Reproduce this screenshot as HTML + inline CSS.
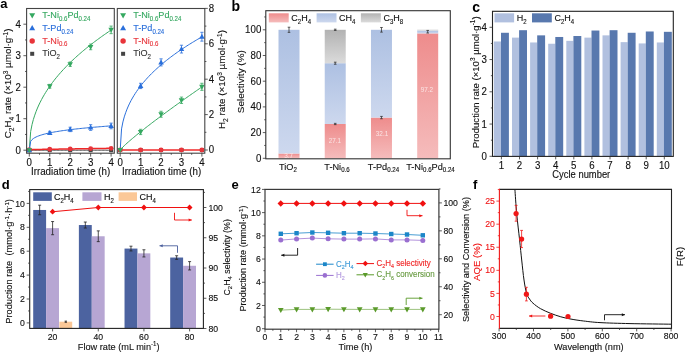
<!DOCTYPE html>
<html><head><meta charset="utf-8"><title>Figure</title>
<style>html,body{margin:0;padding:0;background:#fff;}body{width:685px;height:353px;overflow:hidden;font-family:"Liberation Sans",sans-serif;}svg{display:block;}#w{will-change:transform;}</style>
</head><body>
<div id="w"><svg width="685" height="353" viewBox="0 0 685 353" font-family="Liberation Sans, sans-serif">
<defs><linearGradient id="gR" x1="0" y1="0" x2="0" y2="1"><stop offset="0" stop-color="#ee8c8c"/><stop offset="1" stop-color="#f5bcbc"/></linearGradient><linearGradient id="gB" x1="0" y1="0" x2="0" y2="1"><stop offset="0" stop-color="#adc0e2"/><stop offset="1" stop-color="#cdd8ee"/></linearGradient><linearGradient id="gG" x1="0" y1="0" x2="0" y2="1"><stop offset="0" stop-color="#b2b2b2"/><stop offset="1" stop-color="#dbdbdb"/></linearGradient></defs>
<rect width="685" height="353" fill="#fff"/>
<text x="0.30" y="7.80" font-size="13" text-anchor="start" fill="#000" font-weight="bold"><tspan>a</tspan></text>
<polyline points="29.30,150.20 30.66,131.55 32.03,124.63 33.39,119.45 34.75,115.16 36.12,111.41 37.48,108.06 38.84,104.99 40.21,102.16 41.57,99.52 42.93,97.03 44.30,94.67 45.66,92.43 47.02,90.29 48.39,88.23 49.75,86.25 51.11,84.35 52.48,82.51 53.84,80.72 55.20,78.99 56.57,77.31 57.93,75.68 59.29,74.08 60.66,72.53 62.02,71.01 63.38,69.52 64.75,68.07 66.11,66.65 67.47,65.25 68.84,63.89 70.20,62.55 71.56,61.23 72.93,59.93 74.29,58.66 75.65,57.41 77.02,56.18 78.38,54.96 79.74,53.77 81.11,52.59 82.47,51.43 83.83,50.29 85.20,49.16 86.56,48.04 87.92,46.94 89.29,45.86 90.65,44.79 92.01,43.73 93.38,42.68 94.74,41.64 96.10,40.62 97.47,39.61 98.83,38.61 100.19,37.62 101.56,36.64 102.92,35.67 104.28,34.71 105.65,33.76 107.01,32.82 108.37,31.88 109.74,30.96 111.10,30.04" fill="none" stroke="#35a860" stroke-width="1"/>
<polyline points="29.30,150.20 30.66,141.28 32.03,139.62 33.39,138.52 34.75,137.67 36.12,136.96 37.48,136.36 38.84,135.83 40.21,135.35 41.57,134.91 42.93,134.51 44.30,134.14 45.66,133.80 47.02,133.47 48.39,133.17 49.75,132.88 51.11,132.60 52.48,132.34 53.84,132.08 55.20,131.84 56.57,131.61 57.93,131.39 59.29,131.17 60.66,130.96 62.02,130.76 63.38,130.57 64.75,130.38 66.11,130.19 67.47,130.01 68.84,129.84 70.20,129.67 71.56,129.50 72.93,129.34 74.29,129.18 75.65,129.03 77.02,128.88 78.38,128.73 79.74,128.59 81.11,128.44 82.47,128.31 83.83,128.17 85.20,128.04 86.56,127.90 87.92,127.78 89.29,127.65 90.65,127.52 92.01,127.40 93.38,127.28 94.74,127.16 96.10,127.05 97.47,126.93 98.83,126.82 100.19,126.71 101.56,126.60 102.92,126.49 104.28,126.38 105.65,126.28 107.01,126.17 108.37,126.07 109.74,125.97 111.10,125.87" fill="none" stroke="#2a6fdb" stroke-width="1"/>
<polyline points="29.30,150.20 30.66,150.20 32.03,150.20 33.39,150.20 34.75,150.20 36.12,150.20 37.48,150.20 38.84,150.20 40.21,150.20 41.57,150.20 42.93,150.20 44.30,150.20 45.66,150.20 47.02,150.20 48.39,150.20 49.75,150.20 51.11,150.20 52.48,150.20 53.84,150.20 55.20,150.20 56.57,150.20 57.93,150.20 59.29,150.20 60.66,150.20 62.02,150.20 63.38,150.20 64.75,150.20 66.11,150.20 67.47,150.20 68.84,150.20 70.20,150.20 71.56,150.20 72.93,150.20 74.29,150.20 75.65,150.20 77.02,150.20 78.38,150.20 79.74,150.20 81.11,150.20 82.47,150.20 83.83,150.20 85.20,150.20 86.56,150.20 87.92,150.20 89.29,150.20 90.65,150.20 92.01,150.20 93.38,150.20 94.74,150.20 96.10,150.20 97.47,150.20 98.83,150.20 100.19,150.20 101.56,150.20 102.92,150.20 104.28,150.20 105.65,150.20 107.01,150.20 108.37,150.20 109.74,150.20 111.10,150.20" fill="none" stroke="#444" stroke-width="1"/>
<polyline points="29.30,149.57 30.66,149.55 32.03,149.53 33.39,149.51 34.75,149.49 36.12,149.46 37.48,149.44 38.84,149.42 40.21,149.40 41.57,149.38 42.93,149.36 44.30,149.34 45.66,149.32 47.02,149.30 48.39,149.28 49.75,149.25 51.11,149.23 52.48,149.21 53.84,149.19 55.20,149.17 56.57,149.15 57.93,149.13 59.29,149.11 60.66,149.09 62.02,149.07 63.38,149.04 64.75,149.02 66.11,149.00 67.47,148.98 68.84,148.96 70.20,148.94 71.56,148.92 72.93,148.90 74.29,148.88 75.65,148.86 77.02,148.83 78.38,148.81 79.74,148.79 81.11,148.77 82.47,148.75 83.83,148.73 85.20,148.71 86.56,148.69 87.92,148.67 89.29,148.65 90.65,148.62 92.01,148.60 93.38,148.58 94.74,148.56 96.10,148.54 97.47,148.52 98.83,148.50 100.19,148.48 101.56,148.46 102.92,148.44 104.28,148.41 105.65,148.39 107.01,148.37 108.37,148.35 109.74,148.33 111.10,148.31" fill="none" stroke="#f02828" stroke-width="1.5"/>
<line x1="49.75" y1="84.36" x2="49.75" y2="88.15" stroke="#35a860" stroke-width="0.8"/>
<line x1="48.15" y1="84.36" x2="51.35" y2="84.36" stroke="#35a860" stroke-width="0.8"/>
<line x1="48.15" y1="88.15" x2="51.35" y2="88.15" stroke="#35a860" stroke-width="0.8"/>
<polygon points="49.75,89.13 52.50,84.25 47.00,84.25" fill="#35a860"/>
<line x1="70.20" y1="62.00" x2="70.20" y2="66.41" stroke="#35a860" stroke-width="0.8"/>
<line x1="68.60" y1="62.00" x2="71.80" y2="62.00" stroke="#35a860" stroke-width="0.8"/>
<line x1="68.60" y1="66.41" x2="71.80" y2="66.41" stroke="#35a860" stroke-width="0.8"/>
<polygon points="70.20,67.08 72.95,62.20 67.45,62.20" fill="#35a860"/>
<line x1="90.65" y1="44.05" x2="90.65" y2="49.72" stroke="#35a860" stroke-width="0.8"/>
<line x1="89.05" y1="44.05" x2="92.25" y2="44.05" stroke="#35a860" stroke-width="0.8"/>
<line x1="89.05" y1="49.72" x2="92.25" y2="49.72" stroke="#35a860" stroke-width="0.8"/>
<polygon points="90.65,49.76 93.40,44.88 87.90,44.88" fill="#35a860"/>
<line x1="111.10" y1="26.09" x2="111.10" y2="33.65" stroke="#35a860" stroke-width="0.8"/>
<line x1="109.50" y1="26.09" x2="112.70" y2="26.09" stroke="#35a860" stroke-width="0.8"/>
<line x1="109.50" y1="33.65" x2="112.70" y2="33.65" stroke="#35a860" stroke-width="0.8"/>
<polygon points="111.10,32.75 113.85,27.87 108.35,27.87" fill="#35a860"/>
<line x1="49.75" y1="131.30" x2="49.75" y2="134.45" stroke="#2a6fdb" stroke-width="0.8"/>
<line x1="48.15" y1="131.30" x2="51.35" y2="131.30" stroke="#2a6fdb" stroke-width="0.8"/>
<line x1="48.15" y1="134.45" x2="51.35" y2="134.45" stroke="#2a6fdb" stroke-width="0.8"/>
<polygon points="49.75,130.00 52.50,134.88 47.00,134.88" fill="#2a6fdb"/>
<line x1="70.20" y1="127.20" x2="70.20" y2="131.61" stroke="#2a6fdb" stroke-width="0.8"/>
<line x1="68.60" y1="127.20" x2="71.80" y2="127.20" stroke="#2a6fdb" stroke-width="0.8"/>
<line x1="68.60" y1="131.61" x2="71.80" y2="131.61" stroke="#2a6fdb" stroke-width="0.8"/>
<polygon points="70.20,126.53 72.95,131.41 67.45,131.41" fill="#2a6fdb"/>
<line x1="90.65" y1="124.68" x2="90.65" y2="130.35" stroke="#2a6fdb" stroke-width="0.8"/>
<line x1="89.05" y1="124.68" x2="92.25" y2="124.68" stroke="#2a6fdb" stroke-width="0.8"/>
<line x1="89.05" y1="130.35" x2="92.25" y2="130.35" stroke="#2a6fdb" stroke-width="0.8"/>
<polygon points="90.65,124.64 93.40,129.52 87.90,129.52" fill="#2a6fdb"/>
<line x1="111.10" y1="123.11" x2="111.10" y2="128.78" stroke="#2a6fdb" stroke-width="0.8"/>
<line x1="109.50" y1="123.11" x2="112.70" y2="123.11" stroke="#2a6fdb" stroke-width="0.8"/>
<line x1="109.50" y1="128.78" x2="112.70" y2="128.78" stroke="#2a6fdb" stroke-width="0.8"/>
<polygon points="111.10,123.07 113.85,127.94 108.35,127.94" fill="#2a6fdb"/>
<rect x="27.30" y="148.20" width="4.00" height="4.00" fill="#444"/>
<circle cx="29.30" cy="149.57" r="2.40" fill="#e8343a"/>
<rect x="47.75" y="148.20" width="4.00" height="4.00" fill="#444"/>
<circle cx="49.75" cy="149.25" r="2.40" fill="#e8343a"/>
<rect x="68.20" y="148.20" width="4.00" height="4.00" fill="#444"/>
<circle cx="70.20" cy="148.94" r="2.40" fill="#e8343a"/>
<rect x="88.65" y="148.20" width="4.00" height="4.00" fill="#444"/>
<circle cx="90.65" cy="148.62" r="2.40" fill="#e8343a"/>
<rect x="109.10" y="148.20" width="4.00" height="4.00" fill="#444"/>
<circle cx="111.10" cy="148.31" r="2.40" fill="#e8343a"/>
<polygon points="29.30,147.32 32.05,152.20 26.55,152.20" fill="#2a6fdb"/>
<polygon points="29.30,153.07 32.05,148.20 26.55,148.20" fill="#35a860"/>
<polyline points="120.20,150.00 121.56,128.89 122.92,121.95 124.28,116.88 125.65,112.73 127.01,109.16 128.37,105.99 129.73,103.12 131.09,100.48 132.46,98.03 133.82,95.74 135.18,93.58 136.54,91.53 137.90,89.58 139.26,87.71 140.62,85.93 141.99,84.21 143.35,82.55 144.71,80.95 146.07,79.41 147.43,77.90 148.80,76.45 150.16,75.03 151.52,73.65 152.88,72.31 154.24,71.00 155.60,69.72 156.97,68.47 158.33,67.24 159.69,66.04 161.05,64.87 162.41,63.71 163.77,62.58 165.13,61.47 166.50,60.38 167.86,59.31 169.22,58.26 170.58,57.22 171.94,56.20 173.31,55.20 174.67,54.21 176.03,53.23 177.39,52.27 178.75,51.33 180.11,50.39 181.48,49.47 182.84,48.56 184.20,47.66 185.56,46.77 186.92,45.90 188.28,45.03 189.65,44.18 191.01,43.33 192.37,42.49 193.73,41.67 195.09,40.85 196.45,40.04 197.81,39.24 199.18,38.44 200.54,37.66 201.90,36.88" fill="none" stroke="#2a6fdb" stroke-width="1"/>
<polyline points="120.20,150.00 121.56,148.38 122.92,147.00 124.28,145.68 125.65,144.41 127.01,143.18 128.37,141.97 129.73,140.78 131.09,139.61 132.46,138.46 133.82,137.32 135.18,136.19 136.54,135.07 137.90,133.96 139.26,132.86 140.62,131.77 141.99,130.68 143.35,129.61 144.71,128.54 146.07,127.47 147.43,126.42 148.80,125.36 150.16,124.32 151.52,123.27 152.88,122.23 154.24,121.20 155.60,120.17 156.97,119.15 158.33,118.13 159.69,117.11 161.05,116.10 162.41,115.09 163.77,114.08 165.13,113.08 166.50,112.08 167.86,111.08 169.22,110.09 170.58,109.10 171.94,108.11 173.31,107.12 174.67,106.14 176.03,105.16 177.39,104.18 178.75,103.21 180.11,102.24 181.48,101.27 182.84,100.30 184.20,99.33 185.56,98.37 186.92,97.41 188.28,96.45 189.65,95.49 191.01,94.53 192.37,93.58 193.73,92.63 195.09,91.68 196.45,90.73 197.81,89.78 199.18,88.84 200.54,87.90 201.90,86.95" fill="none" stroke="#35a860" stroke-width="1"/>
<polyline points="120.20,150.00 121.56,150.00 122.92,150.00 124.28,150.00 125.65,150.00 127.01,150.00 128.37,150.00 129.73,150.00 131.09,150.00 132.46,150.00 133.82,150.00 135.18,150.00 136.54,150.00 137.90,150.00 139.26,150.00 140.62,150.00 141.99,150.00 143.35,150.00 144.71,150.00 146.07,150.00 147.43,150.00 148.80,150.00 150.16,150.00 151.52,150.00 152.88,150.00 154.24,150.00 155.60,150.00 156.97,150.00 158.33,150.00 159.69,150.00 161.05,150.00 162.41,150.00 163.77,150.00 165.13,150.00 166.50,150.00 167.86,150.00 169.22,150.00 170.58,150.00 171.94,150.00 173.31,150.00 174.67,150.00 176.03,150.00 177.39,150.00 178.75,150.00 180.11,150.00 181.48,150.00 182.84,150.00 184.20,150.00 185.56,150.00 186.92,150.00 188.28,150.00 189.65,150.00 191.01,150.00 192.37,150.00 193.73,150.00 195.09,150.00 196.45,150.00 197.81,150.00 199.18,150.00 200.54,150.00 201.90,150.00" fill="none" stroke="#f02828" stroke-width="1.5"/>
<line x1="140.62" y1="83.27" x2="140.62" y2="88.58" stroke="#2a6fdb" stroke-width="0.8"/>
<line x1="139.03" y1="83.27" x2="142.22" y2="83.27" stroke="#2a6fdb" stroke-width="0.8"/>
<line x1="139.03" y1="88.58" x2="142.22" y2="88.58" stroke="#2a6fdb" stroke-width="0.8"/>
<polygon points="140.62,83.05 143.38,87.93 137.88,87.93" fill="#2a6fdb"/>
<line x1="161.05" y1="58.84" x2="161.05" y2="65.92" stroke="#2a6fdb" stroke-width="0.8"/>
<line x1="159.45" y1="58.84" x2="162.65" y2="58.84" stroke="#2a6fdb" stroke-width="0.8"/>
<line x1="159.45" y1="65.92" x2="162.65" y2="65.92" stroke="#2a6fdb" stroke-width="0.8"/>
<polygon points="161.05,59.51 163.80,64.39 158.30,64.39" fill="#2a6fdb"/>
<line x1="181.48" y1="45.22" x2="181.48" y2="53.00" stroke="#2a6fdb" stroke-width="0.8"/>
<line x1="179.88" y1="45.22" x2="183.08" y2="45.22" stroke="#2a6fdb" stroke-width="0.8"/>
<line x1="179.88" y1="53.00" x2="183.08" y2="53.00" stroke="#2a6fdb" stroke-width="0.8"/>
<polygon points="181.48,46.23 184.23,51.11 178.73,51.11" fill="#2a6fdb"/>
<line x1="201.90" y1="32.30" x2="201.90" y2="41.14" stroke="#2a6fdb" stroke-width="0.8"/>
<line x1="200.30" y1="32.30" x2="203.50" y2="32.30" stroke="#2a6fdb" stroke-width="0.8"/>
<line x1="200.30" y1="41.14" x2="203.50" y2="41.14" stroke="#2a6fdb" stroke-width="0.8"/>
<polygon points="201.90,33.84 204.65,38.72 199.15,38.72" fill="#2a6fdb"/>
<line x1="140.62" y1="129.29" x2="140.62" y2="134.60" stroke="#35a860" stroke-width="0.8"/>
<line x1="139.03" y1="129.29" x2="142.22" y2="129.29" stroke="#35a860" stroke-width="0.8"/>
<line x1="139.03" y1="134.60" x2="142.22" y2="134.60" stroke="#35a860" stroke-width="0.8"/>
<polygon points="140.62,134.82 143.38,129.95 137.88,129.95" fill="#35a860"/>
<line x1="161.05" y1="111.24" x2="161.05" y2="117.25" stroke="#35a860" stroke-width="0.8"/>
<line x1="159.45" y1="111.24" x2="162.65" y2="111.24" stroke="#35a860" stroke-width="0.8"/>
<line x1="159.45" y1="117.25" x2="162.65" y2="117.25" stroke="#35a860" stroke-width="0.8"/>
<polygon points="161.05,117.12 163.80,112.25 158.30,112.25" fill="#35a860"/>
<line x1="181.48" y1="97.08" x2="181.48" y2="103.45" stroke="#35a860" stroke-width="0.8"/>
<line x1="179.88" y1="97.08" x2="183.08" y2="97.08" stroke="#35a860" stroke-width="0.8"/>
<line x1="179.88" y1="103.45" x2="183.08" y2="103.45" stroke="#35a860" stroke-width="0.8"/>
<polygon points="181.48,103.14 184.23,98.26 178.73,98.26" fill="#35a860"/>
<line x1="201.90" y1="83.27" x2="201.90" y2="90.35" stroke="#35a860" stroke-width="0.8"/>
<line x1="200.30" y1="83.27" x2="203.50" y2="83.27" stroke="#35a860" stroke-width="0.8"/>
<line x1="200.30" y1="90.35" x2="203.50" y2="90.35" stroke="#35a860" stroke-width="0.8"/>
<polygon points="201.90,89.69 204.65,84.81 199.15,84.81" fill="#35a860"/>
<rect x="118.20" y="148.00" width="4.00" height="4.00" fill="#444"/>
<circle cx="120.20" cy="150.00" r="2.40" fill="#e8343a"/>
<rect x="138.62" y="148.00" width="4.00" height="4.00" fill="#444"/>
<circle cx="140.62" cy="150.00" r="2.40" fill="#e8343a"/>
<rect x="159.05" y="148.00" width="4.00" height="4.00" fill="#444"/>
<circle cx="161.05" cy="150.00" r="2.40" fill="#e8343a"/>
<rect x="179.48" y="148.00" width="4.00" height="4.00" fill="#444"/>
<circle cx="181.48" cy="150.00" r="2.40" fill="#e8343a"/>
<rect x="199.90" y="148.00" width="4.00" height="4.00" fill="#444"/>
<circle cx="201.90" cy="150.00" r="2.40" fill="#e8343a"/>
<polygon points="120.20,152.88 122.95,148.00 117.45,148.00" fill="#35a860"/>
<rect x="26.60" y="8.50" width="87.70" height="144.70" fill="none" stroke="#444" stroke-width="1.1"/>
<rect x="117.30" y="8.50" width="87.50" height="144.70" fill="none" stroke="#444" stroke-width="1.1"/>
<line x1="26.60" y1="150.20" x2="23.40" y2="150.20" stroke="#333" stroke-width="0.8"/>
<text x="21.00" y="153.69" font-size="9.7" text-anchor="end" fill="#111" stroke="#111" stroke-width="0.12" transform="matrix(1 0 0 1.07 0 -10.758)"><tspan>0</tspan></text>
<line x1="26.60" y1="118.70" x2="23.40" y2="118.70" stroke="#333" stroke-width="0.8"/>
<text x="21.00" y="122.19" font-size="9.7" text-anchor="end" fill="#111" stroke="#111" stroke-width="0.12" transform="matrix(1 0 0 1.07 0 -8.553)"><tspan>1</tspan></text>
<line x1="26.60" y1="87.20" x2="23.40" y2="87.20" stroke="#333" stroke-width="0.8"/>
<text x="21.00" y="90.69" font-size="9.7" text-anchor="end" fill="#111" stroke="#111" stroke-width="0.12" transform="matrix(1 0 0 1.07 0 -6.348)"><tspan>2</tspan></text>
<line x1="26.60" y1="55.70" x2="23.40" y2="55.70" stroke="#333" stroke-width="0.8"/>
<text x="21.00" y="59.19" font-size="9.7" text-anchor="end" fill="#111" stroke="#111" stroke-width="0.12" transform="matrix(1 0 0 1.07 0 -4.143)"><tspan>3</tspan></text>
<line x1="26.60" y1="24.20" x2="23.40" y2="24.20" stroke="#333" stroke-width="0.8"/>
<text x="21.00" y="27.69" font-size="9.7" text-anchor="end" fill="#111" stroke="#111" stroke-width="0.12" transform="matrix(1 0 0 1.07 0 -1.938)"><tspan>4</tspan></text>
<line x1="26.60" y1="134.45" x2="25.00" y2="134.45" stroke="#333" stroke-width="0.8"/>
<line x1="26.60" y1="102.95" x2="25.00" y2="102.95" stroke="#333" stroke-width="0.8"/>
<line x1="26.60" y1="71.45" x2="25.00" y2="71.45" stroke="#333" stroke-width="0.8"/>
<line x1="26.60" y1="39.95" x2="25.00" y2="39.95" stroke="#333" stroke-width="0.8"/>
<line x1="29.30" y1="153.20" x2="29.30" y2="156.60" stroke="#333" stroke-width="0.8"/>
<text x="29.30" y="166.28" font-size="9.7" text-anchor="middle" fill="#111" stroke="#111" stroke-width="0.12" transform="matrix(1 0 0 1.07 0 -11.640)"><tspan>0</tspan></text>
<line x1="49.75" y1="153.20" x2="49.75" y2="156.60" stroke="#333" stroke-width="0.8"/>
<text x="49.75" y="166.28" font-size="9.7" text-anchor="middle" fill="#111" stroke="#111" stroke-width="0.12" transform="matrix(1 0 0 1.07 0 -11.640)"><tspan>1</tspan></text>
<line x1="70.20" y1="153.20" x2="70.20" y2="156.60" stroke="#333" stroke-width="0.8"/>
<text x="70.20" y="166.28" font-size="9.7" text-anchor="middle" fill="#111" stroke="#111" stroke-width="0.12" transform="matrix(1 0 0 1.07 0 -11.640)"><tspan>2</tspan></text>
<line x1="90.65" y1="153.20" x2="90.65" y2="156.60" stroke="#333" stroke-width="0.8"/>
<text x="90.65" y="166.28" font-size="9.7" text-anchor="middle" fill="#111" stroke="#111" stroke-width="0.12" transform="matrix(1 0 0 1.07 0 -11.640)"><tspan>3</tspan></text>
<line x1="111.10" y1="153.20" x2="111.10" y2="156.60" stroke="#333" stroke-width="0.8"/>
<text x="111.10" y="166.28" font-size="9.7" text-anchor="middle" fill="#111" stroke="#111" stroke-width="0.12" transform="matrix(1 0 0 1.07 0 -11.640)"><tspan>4</tspan></text>
<line x1="39.52" y1="153.20" x2="39.52" y2="154.80" stroke="#333" stroke-width="0.8"/>
<line x1="59.97" y1="153.20" x2="59.97" y2="154.80" stroke="#333" stroke-width="0.8"/>
<line x1="80.42" y1="153.20" x2="80.42" y2="154.80" stroke="#333" stroke-width="0.8"/>
<line x1="100.88" y1="153.20" x2="100.88" y2="154.80" stroke="#333" stroke-width="0.8"/>
<line x1="204.80" y1="150.00" x2="207.80" y2="150.00" stroke="#333" stroke-width="0.8"/>
<text x="208.80" y="153.49" font-size="9.7" text-anchor="start" fill="#111" stroke="#111" stroke-width="0.12" transform="matrix(1 0 0 1.07 0 -10.744)"><tspan>0</tspan></text>
<line x1="204.80" y1="114.60" x2="207.80" y2="114.60" stroke="#333" stroke-width="0.8"/>
<text x="208.80" y="118.09" font-size="9.7" text-anchor="start" fill="#111" stroke="#111" stroke-width="0.12" transform="matrix(1 0 0 1.07 0 -8.266)"><tspan>2</tspan></text>
<line x1="204.80" y1="79.20" x2="207.80" y2="79.20" stroke="#333" stroke-width="0.8"/>
<text x="208.80" y="82.69" font-size="9.7" text-anchor="start" fill="#111" stroke="#111" stroke-width="0.12" transform="matrix(1 0 0 1.07 0 -5.788)"><tspan>4</tspan></text>
<line x1="204.80" y1="43.80" x2="207.80" y2="43.80" stroke="#333" stroke-width="0.8"/>
<text x="208.80" y="47.29" font-size="9.7" text-anchor="start" fill="#111" stroke="#111" stroke-width="0.12" transform="matrix(1 0 0 1.07 0 -3.310)"><tspan>6</tspan></text>
<line x1="204.80" y1="8.40" x2="207.80" y2="8.40" stroke="#333" stroke-width="0.8"/>
<text x="208.80" y="11.89" font-size="9.7" text-anchor="start" fill="#111" stroke="#111" stroke-width="0.12" transform="matrix(1 0 0 1.07 0 -0.832)"><tspan>8</tspan></text>
<line x1="204.80" y1="132.30" x2="206.40" y2="132.30" stroke="#333" stroke-width="0.8"/>
<line x1="204.80" y1="96.90" x2="206.40" y2="96.90" stroke="#333" stroke-width="0.8"/>
<line x1="204.80" y1="61.50" x2="206.40" y2="61.50" stroke="#333" stroke-width="0.8"/>
<line x1="204.80" y1="26.10" x2="206.40" y2="26.10" stroke="#333" stroke-width="0.8"/>
<line x1="120.20" y1="153.20" x2="120.20" y2="156.60" stroke="#333" stroke-width="0.8"/>
<text x="120.20" y="166.28" font-size="9.7" text-anchor="middle" fill="#111" stroke="#111" stroke-width="0.12" transform="matrix(1 0 0 1.07 0 -11.640)"><tspan>0</tspan></text>
<line x1="140.62" y1="153.20" x2="140.62" y2="156.60" stroke="#333" stroke-width="0.8"/>
<text x="140.62" y="166.28" font-size="9.7" text-anchor="middle" fill="#111" stroke="#111" stroke-width="0.12" transform="matrix(1 0 0 1.07 0 -11.640)"><tspan>1</tspan></text>
<line x1="161.05" y1="153.20" x2="161.05" y2="156.60" stroke="#333" stroke-width="0.8"/>
<text x="161.05" y="166.28" font-size="9.7" text-anchor="middle" fill="#111" stroke="#111" stroke-width="0.12" transform="matrix(1 0 0 1.07 0 -11.640)"><tspan>2</tspan></text>
<line x1="181.48" y1="153.20" x2="181.48" y2="156.60" stroke="#333" stroke-width="0.8"/>
<text x="181.48" y="166.28" font-size="9.7" text-anchor="middle" fill="#111" stroke="#111" stroke-width="0.12" transform="matrix(1 0 0 1.07 0 -11.640)"><tspan>3</tspan></text>
<line x1="201.90" y1="153.20" x2="201.90" y2="156.60" stroke="#333" stroke-width="0.8"/>
<text x="201.90" y="166.28" font-size="9.7" text-anchor="middle" fill="#111" stroke="#111" stroke-width="0.12" transform="matrix(1 0 0 1.07 0 -11.640)"><tspan>4</tspan></text>
<line x1="130.41" y1="153.20" x2="130.41" y2="154.80" stroke="#333" stroke-width="0.8"/>
<line x1="150.84" y1="153.20" x2="150.84" y2="154.80" stroke="#333" stroke-width="0.8"/>
<line x1="171.26" y1="153.20" x2="171.26" y2="154.80" stroke="#333" stroke-width="0.8"/>
<line x1="191.69" y1="153.20" x2="191.69" y2="154.80" stroke="#333" stroke-width="0.8"/>
<text x="70.60" y="175.40" font-size="9.8" text-anchor="middle" fill="#111" stroke="#111" stroke-width="0.12" transform="matrix(1 0 0 1.07 0 -12.278)"><tspan>Irradiation time (h)</tspan></text>
<text x="161.60" y="175.40" font-size="9.8" text-anchor="middle" fill="#111" stroke="#111" stroke-width="0.12" transform="matrix(1 0 0 1.07 0 -12.278)"><tspan>Irradiation time (h)</tspan></text>
<text x="11.40" y="83.40" font-size="9.85" text-anchor="middle" fill="#111" stroke="#111" stroke-width="0.12" transform="rotate(-90 11.40 83.40)"><tspan>C</tspan><tspan font-size="6.60" dy="2.66">2</tspan><tspan dy="-2.66">H</tspan><tspan font-size="6.60" dy="2.66">4</tspan><tspan dy="-2.66"> rate (×10</tspan><tspan font-size="6.60" dy="-3.74">3</tspan><tspan dy="3.74"> µmol·g</tspan><tspan font-size="6.60" dy="-3.74">-1</tspan><tspan dy="3.74">)</tspan></text>
<text x="225.40" y="79.50" font-size="9.85" text-anchor="middle" fill="#111" stroke="#111" stroke-width="0.12" transform="rotate(-90 225.40 79.50)"><tspan>H</tspan><tspan font-size="6.60" dy="2.66">2</tspan><tspan dy="-2.66"> rate (×10</tspan><tspan font-size="6.60" dy="-3.74">3</tspan><tspan dy="3.74"> µmol·g</tspan><tspan font-size="6.60" dy="-3.74">-1</tspan><tspan dy="3.74">)</tspan></text>
<polygon points="32.20,18.50 35.17,13.24 29.23,13.24" fill="#35a860"/>
<text x="42.30" y="18.10" font-size="9.1" text-anchor="start" fill="#35a860" stroke="#35a860" stroke-width="0.12" transform="matrix(1 0 0 1.07 0 -1.267)"><tspan>T-Ni</tspan><tspan font-size="6.10" dy="2.46">0.6</tspan><tspan dy="-2.46">Pd</tspan><tspan font-size="6.10" dy="2.46">0.24</tspan></text>
<polygon points="32.20,25.10 35.17,30.36 29.23,30.36" fill="#2a6fdb"/>
<text x="42.30" y="30.90" font-size="9.1" text-anchor="start" fill="#2a6fdb" stroke="#2a6fdb" stroke-width="0.12" transform="matrix(1 0 0 1.07 0 -2.163)"><tspan>T-Pd</tspan><tspan font-size="6.10" dy="2.46">0.24</tspan></text>
<circle cx="32.20" cy="41.00" r="2.70" fill="#e8343a"/>
<text x="42.30" y="43.70" font-size="9.1" text-anchor="start" fill="#e8343a" stroke="#e8343a" stroke-width="0.12" transform="matrix(1 0 0 1.07 0 -3.059)"><tspan>T-Ni</tspan><tspan font-size="6.10" dy="2.46">0.6</tspan></text>
<rect x="30.20" y="51.80" width="4.00" height="4.00" fill="#444"/>
<text x="42.30" y="56.50" font-size="9.1" text-anchor="start" fill="#333" stroke="#333" stroke-width="0.12" transform="matrix(1 0 0 1.07 0 -3.955)"><tspan>TiO</tspan><tspan font-size="6.10" dy="2.46">2</tspan></text>
<polygon points="123.10,18.50 126.07,13.24 120.13,13.24" fill="#35a860"/>
<text x="133.20" y="18.10" font-size="9.1" text-anchor="start" fill="#35a860" stroke="#35a860" stroke-width="0.12" transform="matrix(1 0 0 1.07 0 -1.267)"><tspan>T-Ni</tspan><tspan font-size="6.10" dy="2.46">0.6</tspan><tspan dy="-2.46">Pd</tspan><tspan font-size="6.10" dy="2.46">0.24</tspan></text>
<polygon points="123.10,25.10 126.07,30.36 120.13,30.36" fill="#2a6fdb"/>
<text x="133.20" y="30.90" font-size="9.1" text-anchor="start" fill="#2a6fdb" stroke="#2a6fdb" stroke-width="0.12" transform="matrix(1 0 0 1.07 0 -2.163)"><tspan>T-Pd</tspan><tspan font-size="6.10" dy="2.46">0.24</tspan></text>
<circle cx="123.10" cy="41.00" r="2.70" fill="#e8343a"/>
<text x="133.20" y="43.70" font-size="9.1" text-anchor="start" fill="#e8343a" stroke="#e8343a" stroke-width="0.12" transform="matrix(1 0 0 1.07 0 -3.059)"><tspan>T-Ni</tspan><tspan font-size="6.10" dy="2.46">0.6</tspan></text>
<rect x="121.10" y="51.80" width="4.00" height="4.00" fill="#444"/>
<text x="133.20" y="56.50" font-size="9.1" text-anchor="start" fill="#333" stroke="#333" stroke-width="0.12" transform="matrix(1 0 0 1.07 0 -3.955)"><tspan>TiO</tspan><tspan font-size="6.10" dy="2.46">2</tspan></text>
<text x="231.50" y="11.40" font-size="14" text-anchor="start" fill="#000" font-weight="bold"><tspan>b</tspan></text>
<rect x="278.50" y="153.55" width="21.00" height="4.75" fill="url(#gR)"/>
<rect x="278.50" y="29.80" width="21.00" height="123.75" fill="url(#gB)"/>
<rect x="324.73" y="123.99" width="21.00" height="34.31" fill="url(#gR)"/>
<rect x="324.73" y="63.21" width="21.00" height="60.78" fill="url(#gB)"/>
<rect x="324.73" y="29.80" width="21.00" height="33.41" fill="url(#gG)"/>
<rect x="370.97" y="117.57" width="21.00" height="40.73" fill="url(#gR)"/>
<rect x="370.97" y="29.80" width="21.00" height="87.77" fill="url(#gB)"/>
<rect x="417.20" y="33.40" width="21.00" height="124.90" fill="url(#gR)"/>
<rect x="417.20" y="30.57" width="21.00" height="2.83" fill="url(#gB)"/>
<rect x="417.20" y="29.80" width="21.00" height="0.77" fill="url(#gG)"/>
<line x1="289.00" y1="27.23" x2="289.00" y2="32.37" stroke="#333" stroke-width="0.8"/>
<line x1="287.70" y1="27.23" x2="290.30" y2="27.23" stroke="#333" stroke-width="0.8"/>
<line x1="287.70" y1="32.37" x2="290.30" y2="32.37" stroke="#333" stroke-width="0.8"/>
<line x1="335.23" y1="29.16" x2="335.23" y2="30.44" stroke="#333" stroke-width="0.8"/>
<line x1="333.93" y1="29.16" x2="336.53" y2="29.16" stroke="#333" stroke-width="0.8"/>
<line x1="333.93" y1="30.44" x2="336.53" y2="30.44" stroke="#333" stroke-width="0.8"/>
<line x1="335.23" y1="62.18" x2="335.23" y2="64.24" stroke="#333" stroke-width="0.8"/>
<line x1="333.93" y1="62.18" x2="336.53" y2="62.18" stroke="#333" stroke-width="0.8"/>
<line x1="333.93" y1="64.24" x2="336.53" y2="64.24" stroke="#333" stroke-width="0.8"/>
<line x1="335.23" y1="123.35" x2="335.23" y2="124.63" stroke="#333" stroke-width="0.8"/>
<line x1="333.93" y1="123.35" x2="336.53" y2="123.35" stroke="#333" stroke-width="0.8"/>
<line x1="333.93" y1="124.63" x2="336.53" y2="124.63" stroke="#333" stroke-width="0.8"/>
<line x1="381.47" y1="27.49" x2="381.47" y2="32.11" stroke="#333" stroke-width="0.8"/>
<line x1="380.17" y1="27.49" x2="382.77" y2="27.49" stroke="#333" stroke-width="0.8"/>
<line x1="380.17" y1="32.11" x2="382.77" y2="32.11" stroke="#333" stroke-width="0.8"/>
<line x1="381.47" y1="116.41" x2="381.47" y2="118.72" stroke="#333" stroke-width="0.8"/>
<line x1="380.17" y1="116.41" x2="382.77" y2="116.41" stroke="#333" stroke-width="0.8"/>
<line x1="380.17" y1="118.72" x2="382.77" y2="118.72" stroke="#333" stroke-width="0.8"/>
<line x1="427.70" y1="30.44" x2="427.70" y2="33.01" stroke="#333" stroke-width="0.8"/>
<line x1="426.40" y1="30.44" x2="429.00" y2="30.44" stroke="#333" stroke-width="0.8"/>
<line x1="426.40" y1="33.01" x2="429.00" y2="33.01" stroke="#333" stroke-width="0.8"/>
<text x="288.60" y="158.20" font-size="6.4" text-anchor="middle" fill="#fbe4e4" transform="matrix(1 0 0 1.07 0 -11.074)"><tspan>3.7</tspan></text>
<text x="334.90" y="143.40" font-size="6.4" text-anchor="middle" fill="#fbe4e4" transform="matrix(1 0 0 1.07 0 -10.038)"><tspan>27.1</tspan></text>
<text x="382.00" y="136.30" font-size="6.4" text-anchor="middle" fill="#fbe4e4" transform="matrix(1 0 0 1.07 0 -9.541)"><tspan>32.1</tspan></text>
<text x="426.90" y="92.40" font-size="6.4" text-anchor="middle" fill="#fbe4e4" transform="matrix(1 0 0 1.07 0 -6.468)"><tspan>97.2</tspan></text>
<rect x="265.80" y="10.70" width="184.50" height="148.10" fill="none" stroke="#333" stroke-width="1.1"/>
<line x1="265.80" y1="158.30" x2="262.80" y2="158.30" stroke="#333" stroke-width="0.8"/>
<text x="261.30" y="161.79" font-size="9.7" text-anchor="end" fill="#111" stroke="#111" stroke-width="0.12" transform="matrix(1 0 0 1.07 0 -11.325)"><tspan>0</tspan></text>
<line x1="265.80" y1="132.60" x2="262.80" y2="132.60" stroke="#333" stroke-width="0.8"/>
<text x="261.30" y="136.09" font-size="9.7" text-anchor="end" fill="#111" stroke="#111" stroke-width="0.12" transform="matrix(1 0 0 1.07 0 -9.526)"><tspan>20</tspan></text>
<line x1="265.80" y1="106.90" x2="262.80" y2="106.90" stroke="#333" stroke-width="0.8"/>
<text x="261.30" y="110.39" font-size="9.7" text-anchor="end" fill="#111" stroke="#111" stroke-width="0.12" transform="matrix(1 0 0 1.07 0 -7.727)"><tspan>40</tspan></text>
<line x1="265.80" y1="81.20" x2="262.80" y2="81.20" stroke="#333" stroke-width="0.8"/>
<text x="261.30" y="84.69" font-size="9.7" text-anchor="end" fill="#111" stroke="#111" stroke-width="0.12" transform="matrix(1 0 0 1.07 0 -5.928)"><tspan>60</tspan></text>
<line x1="265.80" y1="55.50" x2="262.80" y2="55.50" stroke="#333" stroke-width="0.8"/>
<text x="261.30" y="58.99" font-size="9.7" text-anchor="end" fill="#111" stroke="#111" stroke-width="0.12" transform="matrix(1 0 0 1.07 0 -4.129)"><tspan>80</tspan></text>
<line x1="265.80" y1="29.80" x2="262.80" y2="29.80" stroke="#333" stroke-width="0.8"/>
<text x="261.30" y="33.29" font-size="9.7" text-anchor="end" fill="#111" stroke="#111" stroke-width="0.12" transform="matrix(1 0 0 1.07 0 -2.330)"><tspan>100</tspan></text>
<line x1="265.80" y1="145.45" x2="264.20" y2="145.45" stroke="#333" stroke-width="0.8"/>
<line x1="265.80" y1="119.75" x2="264.20" y2="119.75" stroke="#333" stroke-width="0.8"/>
<line x1="265.80" y1="94.05" x2="264.20" y2="94.05" stroke="#333" stroke-width="0.8"/>
<line x1="265.80" y1="68.35" x2="264.20" y2="68.35" stroke="#333" stroke-width="0.8"/>
<line x1="265.80" y1="42.65" x2="264.20" y2="42.65" stroke="#333" stroke-width="0.8"/>
<line x1="265.80" y1="16.95" x2="264.20" y2="16.95" stroke="#333" stroke-width="0.8"/>
<text x="288.00" y="169.80" font-size="9.2" text-anchor="middle" fill="#111" stroke="#111" stroke-width="0.12" transform="matrix(1 0 0 1.07 0 -11.886)"><tspan>TiO</tspan><tspan font-size="6.16" dy="2.48">2</tspan></text>
<text x="337.00" y="169.80" font-size="9.2" text-anchor="middle" fill="#111" stroke="#111" stroke-width="0.12" transform="matrix(1 0 0 1.07 0 -11.886)"><tspan>T-Ni</tspan><tspan font-size="6.16" dy="2.48">0.6</tspan></text>
<text x="383.50" y="169.80" font-size="9.2" text-anchor="middle" fill="#111" stroke="#111" stroke-width="0.12" transform="matrix(1 0 0 1.07 0 -11.886)"><tspan>T-Pd</tspan><tspan font-size="6.16" dy="2.48">0.24</tspan></text>
<text x="430.50" y="169.80" font-size="9.2" text-anchor="middle" fill="#111" stroke="#111" stroke-width="0.12" transform="matrix(1 0 0 1.07 0 -11.886)"><tspan>T-Ni</tspan><tspan font-size="6.16" dy="2.48">0.6</tspan><tspan dy="-2.48">Pd</tspan><tspan font-size="6.16" dy="2.48">0.24</tspan></text>
<text x="244.50" y="81.65" font-size="9.95" text-anchor="middle" fill="#111" stroke="#111" stroke-width="0.12" transform="rotate(-90 244.50 81.65)"><tspan>Selectivity (%)</tspan></text>
<rect x="268.80" y="13.30" width="19.90" height="9.10" fill="url(#gR)"/>
<text x="291.30" y="21.20" font-size="9" text-anchor="start" fill="#111" stroke="#111" stroke-width="0.12" transform="matrix(1 0 0 1.07 0 -1.484)"><tspan>C</tspan><tspan font-size="6.03" dy="2.43">2</tspan><tspan dy="-2.43">H</tspan><tspan font-size="6.03" dy="2.43">4</tspan></text>
<rect x="316.60" y="13.30" width="19.90" height="9.10" fill="url(#gB)"/>
<text x="339.10" y="21.20" font-size="9" text-anchor="start" fill="#111" stroke="#111" stroke-width="0.12" transform="matrix(1 0 0 1.07 0 -1.484)"><tspan>CH</tspan><tspan font-size="6.03" dy="2.43">4</tspan></text>
<rect x="360.90" y="13.30" width="19.90" height="9.10" fill="url(#gG)"/>
<text x="383.40" y="21.20" font-size="9" text-anchor="start" fill="#111" stroke="#111" stroke-width="0.12" transform="matrix(1 0 0 1.07 0 -1.484)"><tspan>C</tspan><tspan font-size="6.03" dy="2.43">3</tspan><tspan dy="-2.43">H</tspan><tspan font-size="6.03" dy="2.43">8</tspan></text>
<text x="472.30" y="12.00" font-size="14" text-anchor="start" fill="#000" font-weight="bold"><tspan>c</tspan></text>
<rect x="493.90" y="41.49" width="7.10" height="114.81" fill="#b1c0df"/>
<rect x="501.00" y="32.78" width="7.90" height="123.52" fill="#5878ae"/>
<rect x="512.00" y="37.62" width="7.10" height="118.68" fill="#b1c0df"/>
<rect x="519.10" y="30.20" width="7.90" height="126.10" fill="#5878ae"/>
<rect x="530.10" y="42.46" width="7.10" height="113.84" fill="#b1c0df"/>
<rect x="537.20" y="35.36" width="7.90" height="120.94" fill="#5878ae"/>
<rect x="548.20" y="43.75" width="7.10" height="112.55" fill="#b1c0df"/>
<rect x="555.30" y="36.98" width="7.90" height="119.33" fill="#5878ae"/>
<rect x="566.30" y="40.85" width="7.10" height="115.45" fill="#b1c0df"/>
<rect x="573.40" y="36.01" width="7.90" height="120.29" fill="#5878ae"/>
<rect x="584.40" y="37.62" width="7.10" height="118.68" fill="#b1c0df"/>
<rect x="591.50" y="30.53" width="7.90" height="125.77" fill="#5878ae"/>
<rect x="602.50" y="35.36" width="7.10" height="120.94" fill="#b1c0df"/>
<rect x="609.60" y="30.20" width="7.90" height="126.10" fill="#5878ae"/>
<rect x="620.60" y="42.14" width="7.10" height="114.17" fill="#b1c0df"/>
<rect x="627.70" y="32.78" width="7.90" height="123.52" fill="#5878ae"/>
<rect x="638.70" y="43.43" width="7.10" height="112.88" fill="#b1c0df"/>
<rect x="645.80" y="31.49" width="7.90" height="124.81" fill="#5878ae"/>
<rect x="656.80" y="42.46" width="7.10" height="113.84" fill="#b1c0df"/>
<rect x="663.90" y="31.82" width="7.90" height="124.48" fill="#5878ae"/>
<rect x="492.50" y="11.30" width="180.80" height="145.10" fill="none" stroke="#222" stroke-width="1.1"/>
<line x1="492.50" y1="156.30" x2="489.50" y2="156.30" stroke="#333" stroke-width="0.8"/>
<text x="487.00" y="159.79" font-size="9.7" text-anchor="end" fill="#111" stroke="#111" stroke-width="0.12" transform="matrix(1 0 0 1.07 0 -11.185)"><tspan>0</tspan></text>
<line x1="492.50" y1="124.05" x2="489.50" y2="124.05" stroke="#333" stroke-width="0.8"/>
<text x="487.00" y="127.54" font-size="9.7" text-anchor="end" fill="#111" stroke="#111" stroke-width="0.12" transform="matrix(1 0 0 1.07 0 -8.928)"><tspan>1</tspan></text>
<line x1="492.50" y1="91.80" x2="489.50" y2="91.80" stroke="#333" stroke-width="0.8"/>
<text x="487.00" y="95.29" font-size="9.7" text-anchor="end" fill="#111" stroke="#111" stroke-width="0.12" transform="matrix(1 0 0 1.07 0 -6.670)"><tspan>2</tspan></text>
<line x1="492.50" y1="59.55" x2="489.50" y2="59.55" stroke="#333" stroke-width="0.8"/>
<text x="487.00" y="63.04" font-size="9.7" text-anchor="end" fill="#111" stroke="#111" stroke-width="0.12" transform="matrix(1 0 0 1.07 0 -4.413)"><tspan>3</tspan></text>
<line x1="492.50" y1="27.30" x2="489.50" y2="27.30" stroke="#333" stroke-width="0.8"/>
<text x="487.00" y="30.79" font-size="9.7" text-anchor="end" fill="#111" stroke="#111" stroke-width="0.12" transform="matrix(1 0 0 1.07 0 -2.155)"><tspan>4</tspan></text>
<line x1="492.50" y1="140.18" x2="490.90" y2="140.18" stroke="#333" stroke-width="0.8"/>
<line x1="492.50" y1="107.93" x2="490.90" y2="107.93" stroke="#333" stroke-width="0.8"/>
<line x1="492.50" y1="75.68" x2="490.90" y2="75.68" stroke="#333" stroke-width="0.8"/>
<line x1="492.50" y1="43.43" x2="490.90" y2="43.43" stroke="#333" stroke-width="0.8"/>
<line x1="501.40" y1="156.40" x2="501.40" y2="159.40" stroke="#333" stroke-width="0.8"/>
<text x="501.40" y="168.98" font-size="9.7" text-anchor="middle" fill="#111" stroke="#111" stroke-width="0.12" transform="matrix(1 0 0 1.07 0 -11.829)"><tspan>1</tspan></text>
<line x1="519.50" y1="156.40" x2="519.50" y2="159.40" stroke="#333" stroke-width="0.8"/>
<text x="519.50" y="168.98" font-size="9.7" text-anchor="middle" fill="#111" stroke="#111" stroke-width="0.12" transform="matrix(1 0 0 1.07 0 -11.829)"><tspan>2</tspan></text>
<line x1="537.60" y1="156.40" x2="537.60" y2="159.40" stroke="#333" stroke-width="0.8"/>
<text x="537.60" y="168.98" font-size="9.7" text-anchor="middle" fill="#111" stroke="#111" stroke-width="0.12" transform="matrix(1 0 0 1.07 0 -11.829)"><tspan>3</tspan></text>
<line x1="555.70" y1="156.40" x2="555.70" y2="159.40" stroke="#333" stroke-width="0.8"/>
<text x="555.70" y="168.98" font-size="9.7" text-anchor="middle" fill="#111" stroke="#111" stroke-width="0.12" transform="matrix(1 0 0 1.07 0 -11.829)"><tspan>4</tspan></text>
<line x1="573.80" y1="156.40" x2="573.80" y2="159.40" stroke="#333" stroke-width="0.8"/>
<text x="573.80" y="168.98" font-size="9.7" text-anchor="middle" fill="#111" stroke="#111" stroke-width="0.12" transform="matrix(1 0 0 1.07 0 -11.829)"><tspan>5</tspan></text>
<line x1="591.90" y1="156.40" x2="591.90" y2="159.40" stroke="#333" stroke-width="0.8"/>
<text x="591.90" y="168.98" font-size="9.7" text-anchor="middle" fill="#111" stroke="#111" stroke-width="0.12" transform="matrix(1 0 0 1.07 0 -11.829)"><tspan>6</tspan></text>
<line x1="610.00" y1="156.40" x2="610.00" y2="159.40" stroke="#333" stroke-width="0.8"/>
<text x="610.00" y="168.98" font-size="9.7" text-anchor="middle" fill="#111" stroke="#111" stroke-width="0.12" transform="matrix(1 0 0 1.07 0 -11.829)"><tspan>7</tspan></text>
<line x1="628.10" y1="156.40" x2="628.10" y2="159.40" stroke="#333" stroke-width="0.8"/>
<text x="628.10" y="168.98" font-size="9.7" text-anchor="middle" fill="#111" stroke="#111" stroke-width="0.12" transform="matrix(1 0 0 1.07 0 -11.829)"><tspan>8</tspan></text>
<line x1="646.20" y1="156.40" x2="646.20" y2="159.40" stroke="#333" stroke-width="0.8"/>
<text x="646.20" y="168.98" font-size="9.7" text-anchor="middle" fill="#111" stroke="#111" stroke-width="0.12" transform="matrix(1 0 0 1.07 0 -11.829)"><tspan>9</tspan></text>
<line x1="664.30" y1="156.40" x2="664.30" y2="159.40" stroke="#333" stroke-width="0.8"/>
<text x="664.30" y="168.98" font-size="9.7" text-anchor="middle" fill="#111" stroke="#111" stroke-width="0.12" transform="matrix(1 0 0 1.07 0 -11.829)"><tspan>10</tspan></text>
<text x="581.30" y="177.80" font-size="9.4" text-anchor="middle" fill="#111" stroke="#111" stroke-width="0.12" transform="matrix(1 0 0 1.07 0 -12.446)"><tspan>Cycle number</tspan></text>
<text x="478.60" y="82.30" font-size="9.6" text-anchor="middle" fill="#111" stroke="#111" stroke-width="0.12" transform="rotate(-90 478.60 82.30)"><tspan>Production rate (×10</tspan><tspan font-size="6.43" dy="-3.65">3</tspan><tspan dy="3.65"> µmol·g</tspan><tspan font-size="6.43" dy="-3.65">-1</tspan><tspan dy="3.65">)</tspan></text>
<rect x="494.50" y="13.30" width="19.60" height="9.10" fill="#b1c0df"/>
<text x="516.80" y="21.20" font-size="9" text-anchor="start" fill="#111" stroke="#111" stroke-width="0.12" transform="matrix(1 0 0 1.07 0 -1.484)"><tspan>H</tspan><tspan font-size="6.03" dy="2.43">2</tspan></text>
<rect x="532.00" y="13.30" width="19.80" height="9.10" fill="#5878ae"/>
<text x="554.50" y="21.20" font-size="9" text-anchor="start" fill="#111" stroke="#111" stroke-width="0.12" transform="matrix(1 0 0 1.07 0 -1.484)"><tspan>C</tspan><tspan font-size="6.03" dy="2.43">2</tspan><tspan dy="-2.43">H</tspan><tspan font-size="6.03" dy="2.43">4</tspan></text>
<text x="1.80" y="189.30" font-size="13" text-anchor="start" fill="#000" font-weight="bold"><tspan>d</tspan></text>
<rect x="33.20" y="209.97" width="12.90" height="118.43" fill="#4c63a0"/>
<rect x="46.10" y="228.14" width="12.90" height="100.26" fill="#b7a6d3"/>
<line x1="39.65" y1="205.19" x2="39.65" y2="214.75" stroke="#222" stroke-width="0.8"/>
<line x1="38.15" y1="205.19" x2="41.15" y2="205.19" stroke="#222" stroke-width="0.8"/>
<line x1="38.15" y1="214.75" x2="41.15" y2="214.75" stroke="#222" stroke-width="0.8"/>
<line x1="52.60" y1="221.56" x2="52.60" y2="234.71" stroke="#222" stroke-width="0.8"/>
<line x1="51.10" y1="221.56" x2="54.10" y2="221.56" stroke="#222" stroke-width="0.8"/>
<line x1="51.10" y1="234.71" x2="54.10" y2="234.71" stroke="#222" stroke-width="0.8"/>
<rect x="78.87" y="225.03" width="12.90" height="103.37" fill="#4c63a0"/>
<rect x="91.77" y="236.26" width="12.90" height="92.14" fill="#b7a6d3"/>
<line x1="85.32" y1="222.04" x2="85.32" y2="228.02" stroke="#222" stroke-width="0.8"/>
<line x1="83.82" y1="222.04" x2="86.82" y2="222.04" stroke="#222" stroke-width="0.8"/>
<line x1="83.82" y1="228.02" x2="86.82" y2="228.02" stroke="#222" stroke-width="0.8"/>
<line x1="98.27" y1="230.88" x2="98.27" y2="241.64" stroke="#222" stroke-width="0.8"/>
<line x1="96.77" y1="230.88" x2="99.77" y2="230.88" stroke="#222" stroke-width="0.8"/>
<line x1="96.77" y1="241.64" x2="99.77" y2="241.64" stroke="#222" stroke-width="0.8"/>
<rect x="124.53" y="248.57" width="12.90" height="79.83" fill="#4c63a0"/>
<rect x="137.43" y="253.35" width="12.90" height="75.05" fill="#b7a6d3"/>
<line x1="130.98" y1="246.18" x2="130.98" y2="250.96" stroke="#222" stroke-width="0.8"/>
<line x1="129.48" y1="246.18" x2="132.48" y2="246.18" stroke="#222" stroke-width="0.8"/>
<line x1="129.48" y1="250.96" x2="132.48" y2="250.96" stroke="#222" stroke-width="0.8"/>
<line x1="143.93" y1="249.77" x2="143.93" y2="256.94" stroke="#222" stroke-width="0.8"/>
<line x1="142.43" y1="249.77" x2="145.43" y2="249.77" stroke="#222" stroke-width="0.8"/>
<line x1="142.43" y1="256.94" x2="145.43" y2="256.94" stroke="#222" stroke-width="0.8"/>
<rect x="170.20" y="257.53" width="12.90" height="70.87" fill="#4c63a0"/>
<rect x="183.10" y="265.78" width="12.90" height="62.62" fill="#b7a6d3"/>
<line x1="176.65" y1="255.74" x2="176.65" y2="259.33" stroke="#222" stroke-width="0.8"/>
<line x1="175.15" y1="255.74" x2="178.15" y2="255.74" stroke="#222" stroke-width="0.8"/>
<line x1="175.15" y1="259.33" x2="178.15" y2="259.33" stroke="#222" stroke-width="0.8"/>
<line x1="189.60" y1="261.60" x2="189.60" y2="269.96" stroke="#222" stroke-width="0.8"/>
<line x1="188.10" y1="261.60" x2="191.10" y2="261.60" stroke="#222" stroke-width="0.8"/>
<line x1="188.10" y1="269.96" x2="191.10" y2="269.96" stroke="#222" stroke-width="0.8"/>
<rect x="59.40" y="321.70" width="12.80" height="6.69" fill="#fbc898"/>
<line x1="65.80" y1="321.11" x2="65.80" y2="322.30" stroke="#222" stroke-width="0.8"/>
<line x1="64.60" y1="321.11" x2="67.00" y2="321.11" stroke="#222" stroke-width="0.8"/>
<line x1="64.60" y1="322.30" x2="67.00" y2="322.30" stroke="#222" stroke-width="0.8"/>
<polyline points="52.60,211.74 98.27,207.50 143.93,207.50 189.60,207.50" fill="none" stroke="#f01010" stroke-width="1"/>
<polygon points="52.60,208.86 55.48,211.74 52.60,214.62 49.72,211.74" fill="#f01010"/>
<polygon points="98.27,204.62 101.15,207.50 98.27,210.38 95.39,207.50" fill="#f01010"/>
<polygon points="143.93,204.62 146.81,207.50 143.93,210.38 141.05,207.50" fill="#f01010"/>
<polygon points="189.60,204.62 192.48,207.50 189.60,210.38 186.72,207.50" fill="#f01010"/>
<rect x="29.70" y="189.60" width="173.70" height="138.80" fill="none" stroke="#222" stroke-width="1.1"/>
<line x1="29.70" y1="322.90" x2="26.70" y2="322.90" stroke="#333" stroke-width="0.8"/>
<text x="24.90" y="326.03" font-size="8.7" text-anchor="end" fill="#111" stroke="#111" stroke-width="0.12" transform="matrix(1 0 0 1.07 0 -22.822)"><tspan>0</tspan></text>
<line x1="29.70" y1="299.00" x2="26.70" y2="299.00" stroke="#333" stroke-width="0.8"/>
<text x="24.90" y="302.13" font-size="8.7" text-anchor="end" fill="#111" stroke="#111" stroke-width="0.12" transform="matrix(1 0 0 1.07 0 -21.149)"><tspan>2</tspan></text>
<line x1="29.70" y1="275.10" x2="26.70" y2="275.10" stroke="#333" stroke-width="0.8"/>
<text x="24.90" y="278.23" font-size="8.7" text-anchor="end" fill="#111" stroke="#111" stroke-width="0.12" transform="matrix(1 0 0 1.07 0 -19.476)"><tspan>4</tspan></text>
<line x1="29.70" y1="251.20" x2="26.70" y2="251.20" stroke="#333" stroke-width="0.8"/>
<text x="24.90" y="254.33" font-size="8.7" text-anchor="end" fill="#111" stroke="#111" stroke-width="0.12" transform="matrix(1 0 0 1.07 0 -17.803)"><tspan>6</tspan></text>
<line x1="29.70" y1="227.30" x2="26.70" y2="227.30" stroke="#333" stroke-width="0.8"/>
<text x="24.90" y="230.43" font-size="8.7" text-anchor="end" fill="#111" stroke="#111" stroke-width="0.12" transform="matrix(1 0 0 1.07 0 -16.130)"><tspan>8</tspan></text>
<line x1="29.70" y1="203.40" x2="26.70" y2="203.40" stroke="#333" stroke-width="0.8"/>
<text x="24.90" y="206.53" font-size="8.7" text-anchor="end" fill="#111" stroke="#111" stroke-width="0.12" transform="matrix(1 0 0 1.07 0 -14.457)"><tspan>10</tspan></text>
<line x1="29.70" y1="310.95" x2="28.10" y2="310.95" stroke="#333" stroke-width="0.8"/>
<line x1="29.70" y1="287.05" x2="28.10" y2="287.05" stroke="#333" stroke-width="0.8"/>
<line x1="29.70" y1="263.15" x2="28.10" y2="263.15" stroke="#333" stroke-width="0.8"/>
<line x1="29.70" y1="239.25" x2="28.10" y2="239.25" stroke="#333" stroke-width="0.8"/>
<line x1="29.70" y1="215.35" x2="28.10" y2="215.35" stroke="#333" stroke-width="0.8"/>
<line x1="29.70" y1="191.45" x2="28.10" y2="191.45" stroke="#333" stroke-width="0.8"/>
<line x1="203.40" y1="328.50" x2="206.40" y2="328.50" stroke="#333" stroke-width="0.8"/>
<text x="208.40" y="331.63" font-size="8.7" text-anchor="start" fill="#111" stroke="#111" stroke-width="0.12" transform="matrix(1 0 0 1.07 0 -23.214)"><tspan>80</tspan></text>
<line x1="203.40" y1="298.25" x2="206.40" y2="298.25" stroke="#333" stroke-width="0.8"/>
<text x="208.40" y="301.38" font-size="8.7" text-anchor="start" fill="#111" stroke="#111" stroke-width="0.12" transform="matrix(1 0 0 1.07 0 -21.097)"><tspan>85</tspan></text>
<line x1="203.40" y1="268.00" x2="206.40" y2="268.00" stroke="#333" stroke-width="0.8"/>
<text x="208.40" y="271.13" font-size="8.7" text-anchor="start" fill="#111" stroke="#111" stroke-width="0.12" transform="matrix(1 0 0 1.07 0 -18.979)"><tspan>90</tspan></text>
<line x1="203.40" y1="237.75" x2="206.40" y2="237.75" stroke="#333" stroke-width="0.8"/>
<text x="208.40" y="240.88" font-size="8.7" text-anchor="start" fill="#111" stroke="#111" stroke-width="0.12" transform="matrix(1 0 0 1.07 0 -16.862)"><tspan>95</tspan></text>
<line x1="203.40" y1="207.50" x2="206.40" y2="207.50" stroke="#333" stroke-width="0.8"/>
<text x="208.40" y="210.63" font-size="8.7" text-anchor="start" fill="#111" stroke="#111" stroke-width="0.12" transform="matrix(1 0 0 1.07 0 -14.744)"><tspan>100</tspan></text>
<line x1="203.40" y1="313.38" x2="205.00" y2="313.38" stroke="#333" stroke-width="0.8"/>
<line x1="203.40" y1="283.12" x2="205.00" y2="283.12" stroke="#333" stroke-width="0.8"/>
<line x1="203.40" y1="252.88" x2="205.00" y2="252.88" stroke="#333" stroke-width="0.8"/>
<line x1="203.40" y1="222.62" x2="205.00" y2="222.62" stroke="#333" stroke-width="0.8"/>
<line x1="203.40" y1="192.38" x2="205.00" y2="192.38" stroke="#333" stroke-width="0.8"/>
<line x1="52.60" y1="328.40" x2="52.60" y2="331.40" stroke="#333" stroke-width="0.8"/>
<text x="52.60" y="340.46" font-size="8.7" text-anchor="middle" fill="#111" stroke="#111" stroke-width="0.12" transform="matrix(1 0 0 1.07 0 -23.832)"><tspan>20</tspan></text>
<line x1="98.27" y1="328.40" x2="98.27" y2="331.40" stroke="#333" stroke-width="0.8"/>
<text x="98.27" y="340.46" font-size="8.7" text-anchor="middle" fill="#111" stroke="#111" stroke-width="0.12" transform="matrix(1 0 0 1.07 0 -23.832)"><tspan>40</tspan></text>
<line x1="143.93" y1="328.40" x2="143.93" y2="331.40" stroke="#333" stroke-width="0.8"/>
<text x="143.93" y="340.46" font-size="8.7" text-anchor="middle" fill="#111" stroke="#111" stroke-width="0.12" transform="matrix(1 0 0 1.07 0 -23.832)"><tspan>60</tspan></text>
<line x1="189.60" y1="328.40" x2="189.60" y2="331.40" stroke="#333" stroke-width="0.8"/>
<text x="189.60" y="340.46" font-size="8.7" text-anchor="middle" fill="#111" stroke="#111" stroke-width="0.12" transform="matrix(1 0 0 1.07 0 -23.832)"><tspan>80</tspan></text>
<text x="118.70" y="350.10" font-size="9.2" text-anchor="middle" fill="#111" stroke="#111" stroke-width="0.12" transform="matrix(1 0 0 1.07 0 -24.507)"><tspan>Flow rate (mL min</tspan><tspan font-size="6.16" dy="-3.50">-1</tspan><tspan dy="3.50">)</tspan></text>
<text x="12.50" y="261.40" font-size="9.3" text-anchor="middle" fill="#111" stroke="#111" stroke-width="0.12" transform="rotate(-90 12.50 261.40)"><tspan>Production rate  (mmol·g</tspan><tspan font-size="6.23" dy="-3.53">-1</tspan><tspan dy="3.53">·h</tspan><tspan font-size="6.23" dy="-3.53">-1</tspan><tspan dy="3.53">)</tspan></text>
<text x="230.00" y="257.35" font-size="8.85" text-anchor="middle" fill="#111" stroke="#111" stroke-width="0.12" transform="rotate(-90 230.00 257.35)"><tspan>C</tspan><tspan font-size="5.93" dy="2.39">2</tspan><tspan dy="-2.39">H</tspan><tspan font-size="5.93" dy="2.39">4</tspan><tspan dy="-2.39"> selectivity (%)</tspan></text>
<rect x="33.20" y="192.30" width="18.60" height="8.60" fill="#4c63a0"/>
<text x="54.00" y="200.00" font-size="9" text-anchor="start" fill="#111" stroke="#111" stroke-width="0.12" transform="matrix(1 0 0 1.07 0 -14.000)"><tspan>C</tspan><tspan font-size="6.03" dy="2.43">2</tspan><tspan dy="-2.43">H</tspan><tspan font-size="6.03" dy="2.43">4</tspan></text>
<rect x="82.40" y="192.30" width="19.10" height="8.60" fill="#b7a6d3"/>
<text x="104.00" y="200.00" font-size="9" text-anchor="start" fill="#111" stroke="#111" stroke-width="0.12" transform="matrix(1 0 0 1.07 0 -14.000)"><tspan>H</tspan><tspan font-size="6.03" dy="2.43">2</tspan></text>
<rect x="118.60" y="192.30" width="18.40" height="8.60" fill="#fbc898"/>
<text x="139.50" y="200.00" font-size="9" text-anchor="start" fill="#111" stroke="#111" stroke-width="0.12" transform="matrix(1 0 0 1.07 0 -14.000)"><tspan>CH</tspan><tspan font-size="6.03" dy="2.43">4</tspan></text>
<polyline points="174.50,212.80 174.50,220.00 191.80,220.00" fill="none" stroke="#f01010" stroke-width="0.9"/>
<polygon points="191.80,220.00 188.60,218.56 188.60,221.44" fill="#f01010"/>
<polyline points="177.50,252.80 177.50,245.80 159.50,245.80" fill="none" stroke="#4a5e9c" stroke-width="0.9"/>
<polygon points="159.50,245.80 162.70,247.24 162.70,244.36" fill="#4a5e9c"/>
<text x="231.50" y="189.40" font-size="13" text-anchor="start" fill="#000" font-weight="bold"><tspan>e</tspan></text>
<polyline points="280.78,203.40 296.56,203.40 312.34,203.40 328.12,203.40 343.90,203.40 359.68,203.40 375.46,203.40 391.24,203.40 407.02,203.40 422.80,203.40" fill="none" stroke="#f01010" stroke-width="1"/>
<polygon points="280.78,200.16 284.02,203.40 280.78,206.64 277.54,203.40" fill="#f01010"/>
<polygon points="296.56,200.16 299.80,203.40 296.56,206.64 293.32,203.40" fill="#f01010"/>
<polygon points="312.34,200.16 315.58,203.40 312.34,206.64 309.10,203.40" fill="#f01010"/>
<polygon points="328.12,200.16 331.36,203.40 328.12,206.64 324.88,203.40" fill="#f01010"/>
<polygon points="343.90,200.16 347.14,203.40 343.90,206.64 340.66,203.40" fill="#f01010"/>
<polygon points="359.68,200.16 362.92,203.40 359.68,206.64 356.44,203.40" fill="#f01010"/>
<polygon points="375.46,200.16 378.70,203.40 375.46,206.64 372.22,203.40" fill="#f01010"/>
<polygon points="391.24,200.16 394.48,203.40 391.24,206.64 388.00,203.40" fill="#f01010"/>
<polygon points="407.02,200.16 410.26,203.40 407.02,206.64 403.78,203.40" fill="#f01010"/>
<polygon points="422.80,200.16 426.04,203.40 422.80,206.64 419.56,203.40" fill="#f01010"/>
<polyline points="280.78,233.80 296.56,233.20 312.34,232.50 328.12,232.80 343.90,233.20 359.68,233.20 375.46,233.50 391.24,234.00 407.02,234.50 422.80,235.30" fill="none" stroke="#1b86c8" stroke-width="1" opacity="0.8"/>
<rect x="278.58" y="231.60" width="4.40" height="4.40" fill="#1b86c8"/>
<rect x="294.36" y="231.00" width="4.40" height="4.40" fill="#1b86c8"/>
<rect x="310.14" y="230.30" width="4.40" height="4.40" fill="#1b86c8"/>
<rect x="325.92" y="230.60" width="4.40" height="4.40" fill="#1b86c8"/>
<rect x="341.70" y="231.00" width="4.40" height="4.40" fill="#1b86c8"/>
<rect x="357.48" y="231.00" width="4.40" height="4.40" fill="#1b86c8"/>
<rect x="373.26" y="231.30" width="4.40" height="4.40" fill="#1b86c8"/>
<rect x="389.04" y="231.80" width="4.40" height="4.40" fill="#1b86c8"/>
<rect x="404.82" y="232.30" width="4.40" height="4.40" fill="#1b86c8"/>
<rect x="420.60" y="233.10" width="4.40" height="4.40" fill="#1b86c8"/>
<polyline points="280.78,240.10 296.56,238.90 312.34,238.10 328.12,238.80 343.90,239.10 359.68,239.10 375.46,238.90 391.24,239.90 407.02,239.90 422.80,240.40" fill="none" stroke="#9a6fd0" stroke-width="1" opacity="0.75"/>
<circle cx="280.78" cy="240.10" r="2.50" fill="#9a6fd0"/>
<circle cx="296.56" cy="238.90" r="2.50" fill="#9a6fd0"/>
<circle cx="312.34" cy="238.10" r="2.50" fill="#9a6fd0"/>
<circle cx="328.12" cy="238.80" r="2.50" fill="#9a6fd0"/>
<circle cx="343.90" cy="239.10" r="2.50" fill="#9a6fd0"/>
<circle cx="359.68" cy="239.10" r="2.50" fill="#9a6fd0"/>
<circle cx="375.46" cy="238.90" r="2.50" fill="#9a6fd0"/>
<circle cx="391.24" cy="239.90" r="2.50" fill="#9a6fd0"/>
<circle cx="407.02" cy="239.90" r="2.50" fill="#9a6fd0"/>
<circle cx="422.80" cy="240.40" r="2.50" fill="#9a6fd0"/>
<polyline points="280.78,310.10 296.56,309.40 312.34,309.40 328.12,309.20 343.90,309.30 359.68,309.40 375.46,309.40 391.24,309.40 407.02,309.40 422.80,309.40" fill="none" stroke="#5a9a2a" stroke-width="1" opacity="0.6"/>
<polygon points="280.78,313.09 283.64,308.02 277.92,308.02" fill="#5a9a2a"/>
<polygon points="296.56,312.39 299.42,307.32 293.70,307.32" fill="#5a9a2a"/>
<polygon points="312.34,312.39 315.20,307.32 309.48,307.32" fill="#5a9a2a"/>
<polygon points="328.12,312.19 330.98,307.12 325.26,307.12" fill="#5a9a2a"/>
<polygon points="343.90,312.29 346.76,307.22 341.04,307.22" fill="#5a9a2a"/>
<polygon points="359.68,312.39 362.54,307.32 356.82,307.32" fill="#5a9a2a"/>
<polygon points="375.46,312.39 378.32,307.32 372.60,307.32" fill="#5a9a2a"/>
<polygon points="391.24,312.39 394.10,307.32 388.38,307.32" fill="#5a9a2a"/>
<polygon points="407.02,312.39 409.88,307.32 404.16,307.32" fill="#5a9a2a"/>
<polygon points="422.80,312.39 425.66,307.32 419.94,307.32" fill="#5a9a2a"/>
<rect x="265.00" y="189.40" width="173.90" height="139.80" fill="none" stroke="#3a3a3a" stroke-width="1.2"/>
<line x1="265.00" y1="328.70" x2="262.00" y2="328.70" stroke="#333" stroke-width="0.8"/>
<text x="260.80" y="331.83" font-size="8.7" text-anchor="end" fill="#111" stroke="#111" stroke-width="0.12" transform="matrix(1 0 0 1.07 0 -23.228)"><tspan>0</tspan></text>
<line x1="265.00" y1="305.48" x2="262.00" y2="305.48" stroke="#333" stroke-width="0.8"/>
<text x="260.80" y="308.62" font-size="8.7" text-anchor="end" fill="#111" stroke="#111" stroke-width="0.12" transform="matrix(1 0 0 1.07 0 -21.603)"><tspan>2</tspan></text>
<line x1="265.00" y1="282.27" x2="262.00" y2="282.27" stroke="#333" stroke-width="0.8"/>
<text x="260.80" y="285.40" font-size="8.7" text-anchor="end" fill="#111" stroke="#111" stroke-width="0.12" transform="matrix(1 0 0 1.07 0 -19.978)"><tspan>4</tspan></text>
<line x1="265.00" y1="259.05" x2="262.00" y2="259.05" stroke="#333" stroke-width="0.8"/>
<text x="260.80" y="262.18" font-size="8.7" text-anchor="end" fill="#111" stroke="#111" stroke-width="0.12" transform="matrix(1 0 0 1.07 0 -18.353)"><tspan>6</tspan></text>
<line x1="265.00" y1="235.83" x2="262.00" y2="235.83" stroke="#333" stroke-width="0.8"/>
<text x="260.80" y="238.97" font-size="8.7" text-anchor="end" fill="#111" stroke="#111" stroke-width="0.12" transform="matrix(1 0 0 1.07 0 -16.728)"><tspan>8</tspan></text>
<line x1="265.00" y1="212.62" x2="262.00" y2="212.62" stroke="#333" stroke-width="0.8"/>
<text x="260.80" y="215.75" font-size="8.7" text-anchor="end" fill="#111" stroke="#111" stroke-width="0.12" transform="matrix(1 0 0 1.07 0 -15.102)"><tspan>10</tspan></text>
<line x1="265.00" y1="189.40" x2="262.00" y2="189.40" stroke="#333" stroke-width="0.8"/>
<text x="260.80" y="192.53" font-size="8.7" text-anchor="end" fill="#111" stroke="#111" stroke-width="0.12" transform="matrix(1 0 0 1.07 0 -13.477)"><tspan>12</tspan></text>
<line x1="265.00" y1="317.09" x2="263.40" y2="317.09" stroke="#333" stroke-width="0.8"/>
<line x1="265.00" y1="293.88" x2="263.40" y2="293.88" stroke="#333" stroke-width="0.8"/>
<line x1="265.00" y1="270.66" x2="263.40" y2="270.66" stroke="#333" stroke-width="0.8"/>
<line x1="265.00" y1="247.44" x2="263.40" y2="247.44" stroke="#333" stroke-width="0.8"/>
<line x1="265.00" y1="224.23" x2="263.40" y2="224.23" stroke="#333" stroke-width="0.8"/>
<line x1="265.00" y1="201.01" x2="263.40" y2="201.01" stroke="#333" stroke-width="0.8"/>
<line x1="438.90" y1="314.70" x2="441.90" y2="314.70" stroke="#333" stroke-width="0.8"/>
<text x="443.40" y="317.83" font-size="8.7" text-anchor="start" fill="#111" stroke="#111" stroke-width="0.12" transform="matrix(1 0 0 1.07 0 -22.248)"><tspan>20</tspan></text>
<line x1="438.90" y1="286.75" x2="441.90" y2="286.75" stroke="#333" stroke-width="0.8"/>
<text x="443.40" y="289.88" font-size="8.7" text-anchor="start" fill="#111" stroke="#111" stroke-width="0.12" transform="matrix(1 0 0 1.07 0 -20.292)"><tspan>40</tspan></text>
<line x1="438.90" y1="258.80" x2="441.90" y2="258.80" stroke="#333" stroke-width="0.8"/>
<text x="443.40" y="261.93" font-size="8.7" text-anchor="start" fill="#111" stroke="#111" stroke-width="0.12" transform="matrix(1 0 0 1.07 0 -18.335)"><tspan>60</tspan></text>
<line x1="438.90" y1="230.85" x2="441.90" y2="230.85" stroke="#333" stroke-width="0.8"/>
<text x="443.40" y="233.98" font-size="8.7" text-anchor="start" fill="#111" stroke="#111" stroke-width="0.12" transform="matrix(1 0 0 1.07 0 -16.379)"><tspan>80</tspan></text>
<line x1="438.90" y1="202.90" x2="441.90" y2="202.90" stroke="#333" stroke-width="0.8"/>
<text x="443.40" y="206.03" font-size="8.7" text-anchor="start" fill="#111" stroke="#111" stroke-width="0.12" transform="matrix(1 0 0 1.07 0 -14.422)"><tspan>100</tspan></text>
<line x1="438.90" y1="300.72" x2="440.50" y2="300.72" stroke="#333" stroke-width="0.8"/>
<line x1="438.90" y1="272.77" x2="440.50" y2="272.77" stroke="#333" stroke-width="0.8"/>
<line x1="438.90" y1="244.82" x2="440.50" y2="244.82" stroke="#333" stroke-width="0.8"/>
<line x1="438.90" y1="216.88" x2="440.50" y2="216.88" stroke="#333" stroke-width="0.8"/>
<line x1="438.90" y1="188.93" x2="440.50" y2="188.93" stroke="#333" stroke-width="0.8"/>
<line x1="265.00" y1="329.20" x2="265.00" y2="332.20" stroke="#333" stroke-width="0.8"/>
<text x="265.00" y="339.96" font-size="8.7" text-anchor="middle" fill="#111" stroke="#111" stroke-width="0.12" transform="matrix(1 0 0 1.07 0 -23.797)"><tspan>0</tspan></text>
<line x1="280.78" y1="329.20" x2="280.78" y2="332.20" stroke="#333" stroke-width="0.8"/>
<text x="280.78" y="339.96" font-size="8.7" text-anchor="middle" fill="#111" stroke="#111" stroke-width="0.12" transform="matrix(1 0 0 1.07 0 -23.797)"><tspan>1</tspan></text>
<line x1="296.56" y1="329.20" x2="296.56" y2="332.20" stroke="#333" stroke-width="0.8"/>
<text x="296.56" y="339.96" font-size="8.7" text-anchor="middle" fill="#111" stroke="#111" stroke-width="0.12" transform="matrix(1 0 0 1.07 0 -23.797)"><tspan>2</tspan></text>
<line x1="312.34" y1="329.20" x2="312.34" y2="332.20" stroke="#333" stroke-width="0.8"/>
<text x="312.34" y="339.96" font-size="8.7" text-anchor="middle" fill="#111" stroke="#111" stroke-width="0.12" transform="matrix(1 0 0 1.07 0 -23.797)"><tspan>3</tspan></text>
<line x1="328.12" y1="329.20" x2="328.12" y2="332.20" stroke="#333" stroke-width="0.8"/>
<text x="328.12" y="339.96" font-size="8.7" text-anchor="middle" fill="#111" stroke="#111" stroke-width="0.12" transform="matrix(1 0 0 1.07 0 -23.797)"><tspan>4</tspan></text>
<line x1="343.90" y1="329.20" x2="343.90" y2="332.20" stroke="#333" stroke-width="0.8"/>
<text x="343.90" y="339.96" font-size="8.7" text-anchor="middle" fill="#111" stroke="#111" stroke-width="0.12" transform="matrix(1 0 0 1.07 0 -23.797)"><tspan>5</tspan></text>
<line x1="359.68" y1="329.20" x2="359.68" y2="332.20" stroke="#333" stroke-width="0.8"/>
<text x="359.68" y="339.96" font-size="8.7" text-anchor="middle" fill="#111" stroke="#111" stroke-width="0.12" transform="matrix(1 0 0 1.07 0 -23.797)"><tspan>6</tspan></text>
<line x1="375.46" y1="329.20" x2="375.46" y2="332.20" stroke="#333" stroke-width="0.8"/>
<text x="375.46" y="339.96" font-size="8.7" text-anchor="middle" fill="#111" stroke="#111" stroke-width="0.12" transform="matrix(1 0 0 1.07 0 -23.797)"><tspan>7</tspan></text>
<line x1="391.24" y1="329.20" x2="391.24" y2="332.20" stroke="#333" stroke-width="0.8"/>
<text x="391.24" y="339.96" font-size="8.7" text-anchor="middle" fill="#111" stroke="#111" stroke-width="0.12" transform="matrix(1 0 0 1.07 0 -23.797)"><tspan>8</tspan></text>
<line x1="407.02" y1="329.20" x2="407.02" y2="332.20" stroke="#333" stroke-width="0.8"/>
<text x="407.02" y="339.96" font-size="8.7" text-anchor="middle" fill="#111" stroke="#111" stroke-width="0.12" transform="matrix(1 0 0 1.07 0 -23.797)"><tspan>9</tspan></text>
<line x1="422.80" y1="329.20" x2="422.80" y2="332.20" stroke="#333" stroke-width="0.8"/>
<text x="422.80" y="339.96" font-size="8.7" text-anchor="middle" fill="#111" stroke="#111" stroke-width="0.12" transform="matrix(1 0 0 1.07 0 -23.797)"><tspan>10</tspan></text>
<line x1="438.58" y1="329.20" x2="438.58" y2="332.20" stroke="#333" stroke-width="0.8"/>
<text x="438.58" y="339.96" font-size="8.7" text-anchor="middle" fill="#111" stroke="#111" stroke-width="0.12" transform="matrix(1 0 0 1.07 0 -23.797)"><tspan>11</tspan></text>
<line x1="272.89" y1="329.20" x2="272.89" y2="330.80" stroke="#333" stroke-width="0.8"/>
<line x1="288.67" y1="329.20" x2="288.67" y2="330.80" stroke="#333" stroke-width="0.8"/>
<line x1="304.45" y1="329.20" x2="304.45" y2="330.80" stroke="#333" stroke-width="0.8"/>
<line x1="320.23" y1="329.20" x2="320.23" y2="330.80" stroke="#333" stroke-width="0.8"/>
<line x1="336.01" y1="329.20" x2="336.01" y2="330.80" stroke="#333" stroke-width="0.8"/>
<line x1="351.79" y1="329.20" x2="351.79" y2="330.80" stroke="#333" stroke-width="0.8"/>
<line x1="367.57" y1="329.20" x2="367.57" y2="330.80" stroke="#333" stroke-width="0.8"/>
<line x1="383.35" y1="329.20" x2="383.35" y2="330.80" stroke="#333" stroke-width="0.8"/>
<line x1="399.13" y1="329.20" x2="399.13" y2="330.80" stroke="#333" stroke-width="0.8"/>
<line x1="414.91" y1="329.20" x2="414.91" y2="330.80" stroke="#333" stroke-width="0.8"/>
<line x1="430.69" y1="329.20" x2="430.69" y2="330.80" stroke="#333" stroke-width="0.8"/>
<text x="355.40" y="350.50" font-size="9.2" text-anchor="middle" fill="#111" stroke="#111" stroke-width="0.12" transform="matrix(1 0 0 1.07 0 -24.535)"><tspan>Time (h)</tspan></text>
<text x="246.30" y="258.50" font-size="9.1" text-anchor="middle" fill="#111" stroke="#111" stroke-width="0.12" transform="rotate(-90 246.30 258.50)"><tspan>Production rate (mmol·g</tspan><tspan font-size="6.10" dy="-3.46">-1</tspan><tspan dy="3.46">)</tspan></text>
<text x="468.50" y="259.50" font-size="9.2" text-anchor="middle" fill="#111" stroke="#111" stroke-width="0.12" transform="rotate(-90 468.50 259.50)"><tspan>Selectivity and Conversion (%)</tspan></text>
<line x1="316.10" y1="264.20" x2="333.60" y2="264.20" stroke="#1b86c8" stroke-width="1"/>
<rect x="323.00" y="262.30" width="3.80" height="3.80" fill="#1b86c8"/>
<text x="336.00" y="266.70" font-size="8.0" text-anchor="start" fill="#3f9bd8" stroke="#3f9bd8" stroke-width="0.12" transform="matrix(1 0 0 1.07 0 -18.669)"><tspan>C</tspan><tspan font-size="5.36" dy="2.16">2</tspan><tspan dy="-2.16">H</tspan><tspan font-size="5.36" dy="2.16">4</tspan></text>
<line x1="356.50" y1="263.60" x2="374.00" y2="263.60" stroke="#f01010" stroke-width="1"/>
<polygon points="365.30,260.84 368.06,263.60 365.30,266.36 362.54,263.60" fill="#f01010"/>
<text x="376.40" y="266.10" font-size="8.0" text-anchor="start" fill="#f02828" stroke="#f02828" stroke-width="0.12" transform="matrix(1 0 0 1.07 0 -18.627)"><tspan>C</tspan><tspan font-size="5.36" dy="2.16">2</tspan><tspan dy="-2.16">H</tspan><tspan font-size="5.36" dy="2.16">4</tspan><tspan dy="-2.16"> selectivity</tspan></text>
<line x1="316.10" y1="275.40" x2="333.60" y2="275.40" stroke="#9a6fd0" stroke-width="1"/>
<circle cx="324.90" cy="275.40" r="2.30" fill="#9a6fd0"/>
<text x="336.00" y="277.90" font-size="8.0" text-anchor="start" fill="#b49be0" stroke="#b49be0" stroke-width="0.12" transform="matrix(1 0 0 1.07 0 -19.453)"><tspan>H</tspan><tspan font-size="5.36" dy="2.16">2</tspan></text>
<line x1="356.50" y1="274.80" x2="374.00" y2="274.80" stroke="#5a9a2a" stroke-width="1"/>
<polygon points="365.30,277.44 367.83,272.96 362.77,272.96" fill="#5a9a2a"/>
<text x="376.40" y="277.30" font-size="8.0" text-anchor="start" fill="#6a9c44" stroke="#6a9c44" stroke-width="0.12" transform="matrix(1 0 0 1.07 0 -19.411)"><tspan>C</tspan><tspan font-size="5.36" dy="2.16">2</tspan><tspan dy="-2.16">H</tspan><tspan font-size="5.36" dy="2.16">6</tspan><tspan dy="-2.16"> conversion</tspan></text>
<polyline points="297.60,248.00 297.60,255.20 281.20,255.20" fill="none" stroke="#111" stroke-width="0.9"/>
<polygon points="281.20,255.20 284.40,256.64 284.40,253.76" fill="#111"/>
<polyline points="407.00,209.80 407.00,215.70 422.50,215.70" fill="none" stroke="#f01010" stroke-width="0.9"/>
<polygon points="422.50,215.70 419.30,214.26 419.30,217.14" fill="#f01010"/>
<polyline points="406.20,305.00 406.20,298.20 422.50,298.20" fill="none" stroke="#5a9a2a" stroke-width="0.9"/>
<polygon points="422.50,298.20 419.30,296.76 419.30,299.64" fill="#5a9a2a"/>
<text x="473.00" y="189.20" font-size="13" text-anchor="start" fill="#000" font-weight="bold"><tspan>f</tspan></text>
<path d="M514.90,189.40 C515.20,193.43 515.92,205.17 516.70,213.60 C517.48,222.03 518.77,232.27 519.60,240.00 C520.43,247.73 520.97,253.33 521.70,260.00 C522.43,266.67 523.18,274.42 524.00,280.00 C524.82,285.58 525.68,290.33 526.60,293.50 C527.52,296.67 528.43,297.38 529.50,299.00 C530.57,300.62 531.18,301.60 533.00,303.20 C534.82,304.80 537.47,306.92 540.40,308.60 C543.33,310.28 547.20,311.93 550.60,313.30 C554.00,314.67 557.40,315.83 560.80,316.80 C564.20,317.77 567.18,318.40 571.00,319.10 C574.82,319.80 578.87,320.42 583.70,321.00 C588.53,321.58 592.28,322.17 600.00,322.60 C607.72,323.03 618.08,323.33 630.00,323.60 C641.92,323.87 664.58,324.10 671.50,324.20" fill="none" stroke="#111" stroke-width="1"/>
<line x1="516.10" y1="205.40" x2="516.10" y2="221.20" stroke="#f01818" stroke-width="0.8"/>
<line x1="514.70" y1="205.40" x2="517.50" y2="205.40" stroke="#f01818" stroke-width="0.8"/>
<line x1="514.70" y1="221.20" x2="517.50" y2="221.20" stroke="#f01818" stroke-width="0.8"/>
<circle cx="516.10" cy="213.60" r="2.60" fill="#f01818"/>
<line x1="521.60" y1="230.40" x2="521.60" y2="247.60" stroke="#f01818" stroke-width="0.8"/>
<line x1="520.20" y1="230.40" x2="523.00" y2="230.40" stroke="#f01818" stroke-width="0.8"/>
<line x1="520.20" y1="247.60" x2="523.00" y2="247.60" stroke="#f01818" stroke-width="0.8"/>
<circle cx="521.60" cy="239.10" r="2.60" fill="#f01818"/>
<line x1="526.40" y1="287.30" x2="526.40" y2="300.90" stroke="#f01818" stroke-width="0.8"/>
<line x1="525.00" y1="287.30" x2="527.80" y2="287.30" stroke="#f01818" stroke-width="0.8"/>
<line x1="525.00" y1="300.90" x2="527.80" y2="300.90" stroke="#f01818" stroke-width="0.8"/>
<circle cx="526.40" cy="294.20" r="2.60" fill="#f01818"/>
<circle cx="550.60" cy="316.20" r="2.60" fill="#f01818"/>
<circle cx="568.00" cy="316.50" r="2.60" fill="#f01818"/>
<path d="M499.40,189.40 H671.50 V328.40 H499.40" fill="none" stroke="#222" stroke-width="1.1"/>
<line x1="499.40" y1="188.85" x2="499.40" y2="328.95" stroke="#f01818" stroke-width="1.1"/>
<line x1="499.40" y1="316.50" x2="496.40" y2="316.50" stroke="#f01818" stroke-width="0.8"/>
<text x="494.90" y="319.63" font-size="8.7" text-anchor="end" fill="#f01818" stroke="#f01818" stroke-width="0.12" transform="matrix(1 0 0 1.07 0 -22.374)"><tspan>0</tspan></text>
<line x1="499.40" y1="293.42" x2="496.40" y2="293.42" stroke="#f01818" stroke-width="0.8"/>
<text x="494.90" y="296.55" font-size="8.7" text-anchor="end" fill="#f01818" stroke="#f01818" stroke-width="0.12" transform="matrix(1 0 0 1.07 0 -20.759)"><tspan>5</tspan></text>
<line x1="499.40" y1="270.34" x2="496.40" y2="270.34" stroke="#f01818" stroke-width="0.8"/>
<text x="494.90" y="273.47" font-size="8.7" text-anchor="end" fill="#f01818" stroke="#f01818" stroke-width="0.12" transform="matrix(1 0 0 1.07 0 -19.143)"><tspan>10</tspan></text>
<line x1="499.40" y1="247.26" x2="496.40" y2="247.26" stroke="#f01818" stroke-width="0.8"/>
<text x="494.90" y="250.39" font-size="8.7" text-anchor="end" fill="#f01818" stroke="#f01818" stroke-width="0.12" transform="matrix(1 0 0 1.07 0 -17.527)"><tspan>15</tspan></text>
<line x1="499.40" y1="224.18" x2="496.40" y2="224.18" stroke="#f01818" stroke-width="0.8"/>
<text x="494.90" y="227.31" font-size="8.7" text-anchor="end" fill="#f01818" stroke="#f01818" stroke-width="0.12" transform="matrix(1 0 0 1.07 0 -15.912)"><tspan>20</tspan></text>
<line x1="499.40" y1="201.10" x2="496.40" y2="201.10" stroke="#f01818" stroke-width="0.8"/>
<text x="494.90" y="204.23" font-size="8.7" text-anchor="end" fill="#f01818" stroke="#f01818" stroke-width="0.12" transform="matrix(1 0 0 1.07 0 -14.296)"><tspan>25</tspan></text>
<line x1="499.40" y1="304.96" x2="497.80" y2="304.96" stroke="#f01818" stroke-width="0.8"/>
<line x1="499.40" y1="281.88" x2="497.80" y2="281.88" stroke="#f01818" stroke-width="0.8"/>
<line x1="499.40" y1="258.80" x2="497.80" y2="258.80" stroke="#f01818" stroke-width="0.8"/>
<line x1="499.40" y1="235.72" x2="497.80" y2="235.72" stroke="#f01818" stroke-width="0.8"/>
<line x1="499.40" y1="212.64" x2="497.80" y2="212.64" stroke="#f01818" stroke-width="0.8"/>
<line x1="499.40" y1="189.56" x2="497.80" y2="189.56" stroke="#f01818" stroke-width="0.8"/>
<line x1="499.10" y1="328.40" x2="499.10" y2="331.40" stroke="#333" stroke-width="0.8"/>
<text x="499.10" y="339.16" font-size="8.7" text-anchor="middle" fill="#111" stroke="#111" stroke-width="0.12" transform="matrix(1 0 0 1.07 0 -23.741)"><tspan>300</tspan></text>
<line x1="533.50" y1="328.40" x2="533.50" y2="331.40" stroke="#333" stroke-width="0.8"/>
<text x="533.50" y="339.16" font-size="8.7" text-anchor="middle" fill="#111" stroke="#111" stroke-width="0.12" transform="matrix(1 0 0 1.07 0 -23.741)"><tspan>400</tspan></text>
<line x1="567.90" y1="328.40" x2="567.90" y2="331.40" stroke="#333" stroke-width="0.8"/>
<text x="567.90" y="339.16" font-size="8.7" text-anchor="middle" fill="#111" stroke="#111" stroke-width="0.12" transform="matrix(1 0 0 1.07 0 -23.741)"><tspan>500</tspan></text>
<line x1="602.30" y1="328.40" x2="602.30" y2="331.40" stroke="#333" stroke-width="0.8"/>
<text x="602.30" y="339.16" font-size="8.7" text-anchor="middle" fill="#111" stroke="#111" stroke-width="0.12" transform="matrix(1 0 0 1.07 0 -23.741)"><tspan>600</tspan></text>
<line x1="636.70" y1="328.40" x2="636.70" y2="331.40" stroke="#333" stroke-width="0.8"/>
<text x="636.70" y="339.16" font-size="8.7" text-anchor="middle" fill="#111" stroke="#111" stroke-width="0.12" transform="matrix(1 0 0 1.07 0 -23.741)"><tspan>700</tspan></text>
<line x1="671.10" y1="328.40" x2="671.10" y2="331.40" stroke="#333" stroke-width="0.8"/>
<text x="671.10" y="339.16" font-size="8.7" text-anchor="middle" fill="#111" stroke="#111" stroke-width="0.12" transform="matrix(1 0 0 1.07 0 -23.741)"><tspan>800</tspan></text>
<line x1="516.30" y1="328.40" x2="516.30" y2="330.00" stroke="#333" stroke-width="0.8"/>
<line x1="550.70" y1="328.40" x2="550.70" y2="330.00" stroke="#333" stroke-width="0.8"/>
<line x1="585.10" y1="328.40" x2="585.10" y2="330.00" stroke="#333" stroke-width="0.8"/>
<line x1="619.50" y1="328.40" x2="619.50" y2="330.00" stroke="#333" stroke-width="0.8"/>
<line x1="653.90" y1="328.40" x2="653.90" y2="330.00" stroke="#333" stroke-width="0.8"/>
<text x="588.80" y="350.40" font-size="9.2" text-anchor="middle" fill="#111" stroke="#111" stroke-width="0.12" transform="matrix(1 0 0 1.07 0 -24.528)"><tspan>Wavelength (nm)</tspan></text>
<text x="479.50" y="262.00" font-size="9.65" text-anchor="middle" fill="#f01818" stroke="#f01818" stroke-width="0.12" transform="rotate(-90 479.50 262.00)"><tspan>AQE (%)</tspan></text>
<text x="682.50" y="256.50" font-size="9.7" text-anchor="middle" fill="#111" stroke="#111" stroke-width="0.12" transform="rotate(-90 682.50 256.50)"><tspan>F(R)</tspan></text>
<polyline points="545.40,316.00 529.00,316.00" fill="none" stroke="#f01818" stroke-width="0.9"/>
<polygon points="529.00,316.00 532.20,317.44 532.20,314.56" fill="#f01818"/>
<polyline points="604.50,320.30 604.50,314.70 625.00,314.70" fill="none" stroke="#111" stroke-width="0.9"/>
<polygon points="625.00,314.70 621.80,313.26 621.80,316.14" fill="#111"/>
</svg></div>
</body></html>
